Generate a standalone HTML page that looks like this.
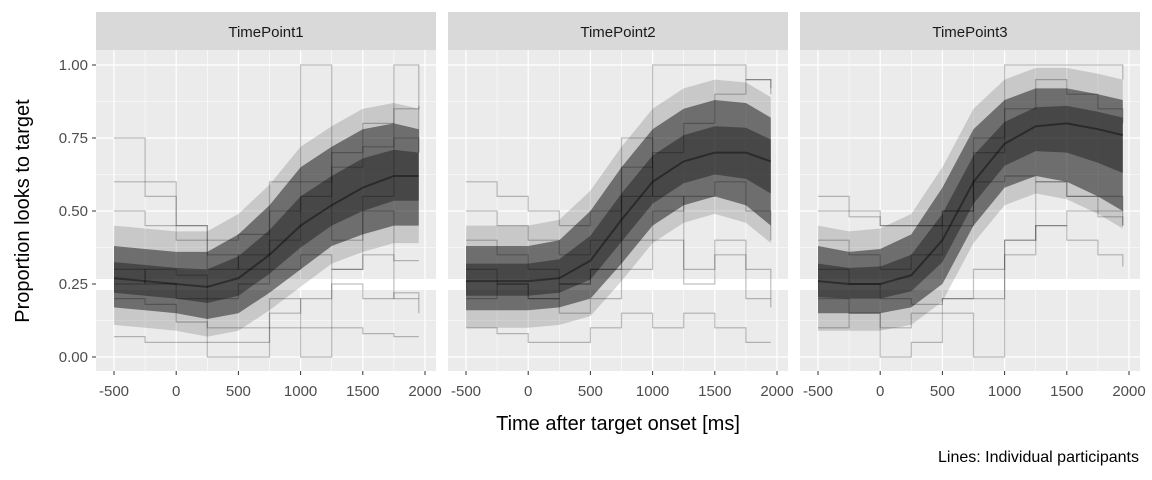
<!DOCTYPE html>
<html><head><meta charset="utf-8"><style>
body{margin:0;background:#fff}
svg{display:block;font-family:"Liberation Sans",Arial,sans-serif}
</style></head><body>
<svg id="c" width="1152" height="480">
<g id="panels"></g>
<text x="618" y="430" font-size="20" text-anchor="middle" fill="#000">Time after target onset [ms]</text>
<text transform="translate(29,211) rotate(-90)" font-size="20" text-anchor="middle" fill="#000">Proportion looks to target</text>
<text x="1139" y="462" font-size="16" text-anchor="end" fill="#000">Lines: Individual participants</text>
</svg>
<script>
const panelNames = ["TimePoint1","TimePoint2","TimePoint3"];
const times = [-500,-250,0,250,500,750,1000,1250,1500,1750,1950];
const xTicks = [-500,0,500,1000,1500,2000];
const yTicks = [0,0.25,0.5,0.75,1];
const yTickLabels = ["0.00","0.25","0.50","0.75","1.00"];
const meanP1 = [0.27,0.26,0.25,0.24,0.27,0.35,0.45,0.52,0.58,0.62,0.62];
const lowP1 = [0.17,0.16,0.15,0.13,0.15,0.22,0.30,0.38,0.42,0.45,0.45];
const highP1 = [0.38,0.37,0.36,0.36,0.42,0.52,0.65,0.72,0.78,0.80,0.78];
const meanP2 = [0.26,0.26,0.26,0.27,0.33,0.47,0.60,0.67,0.70,0.70,0.67];
const lowP2 = [0.16,0.16,0.16,0.17,0.20,0.32,0.45,0.52,0.55,0.52,0.45];
const highP2 = [0.38,0.38,0.38,0.40,0.50,0.65,0.78,0.85,0.88,0.87,0.82];
const meanP3 = [0.26,0.25,0.25,0.28,0.40,0.60,0.73,0.79,0.80,0.78,0.76];
const lowP3 = [0.15,0.15,0.15,0.17,0.25,0.45,0.58,0.62,0.60,0.55,0.50];
const highP3 = [0.38,0.36,0.37,0.42,0.58,0.78,0.88,0.92,0.92,0.90,0.88];
const linesP1 = [
 [0.60,0.55,0.45,0.40,0.42,0.50,0.60,0.70,0.80,0.85,0.86],
 [0.07,0.05,0.05,0.05,0.05,0.10,0.10,0.10,0.08,0.07,0.07],
 [0.20,0.18,0.12,0.10,0.10,0.15,0.20,0.25,0.20,0.22,0.20],
 [0.50,0.45,0.40,0.30,0.35,0.60,1.00,0.40,0.55,1.00,0.70],
 [0.30,0.25,0.20,0.00,0.00,0.20,0.00,0.30,0.50,0.20,0.15],
 [0.75,0.60,0.45,0.35,0.30,0.40,0.55,0.65,0.72,0.75,0.70],
 [0.25,0.30,0.28,0.20,0.25,0.30,0.35,0.30,0.35,0.33,0.33]];
const linesP2 = [
 [0.60,0.55,0.50,0.45,0.50,0.65,1.00,1.00,1.00,0.95,0.90],
 [0.10,0.08,0.05,0.05,0.10,0.15,0.10,0.15,0.10,0.05,0.05],
 [0.20,0.25,0.20,0.25,0.30,0.75,0.55,0.30,0.40,0.30,0.20],
 [0.40,0.35,0.30,0.25,0.30,0.40,0.50,0.55,0.60,0.50,0.40],
 [0.30,0.25,0.20,0.15,0.20,0.30,0.40,0.25,0.35,0.20,0.17],
 [0.50,0.45,0.40,0.35,0.40,0.55,0.70,0.80,0.90,0.95,0.92]];
const linesP3 = [
 [0.55,0.50,0.45,0.45,0.50,0.75,1.00,1.00,1.00,1.00,0.95],
 [0.10,0.15,0.10,0.15,0.20,0.30,0.40,0.45,0.40,0.35,0.31],
 [0.20,0.15,0.00,0.05,0.15,0.00,0.35,0.45,0.50,0.48,0.45],
 [0.50,0.48,0.45,0.45,0.50,0.60,0.62,0.60,0.55,0.55,0.50],
 [0.30,0.25,0.20,0.18,0.20,0.20,0.40,0.60,0.55,0.50,0.45],
 [0.40,0.35,0.30,0.35,0.45,0.70,0.85,0.95,0.90,0.85,0.80]];
const panelMeans=[meanP1,meanP2,meanP3], panelLows=[lowP1,lowP2,lowP3], panelHighs=[highP1,highP2,highP3], panelLines=[linesP1,linesP2,linesP3];
const NS="http://www.w3.org/2000/svg";
const root=document.getElementById('panels');
const PL=[96,448,800], PW=340, PT=50, PB=371;
function yS(v){return 357-292*v;}
function mk(t,a,p){const e=document.createElementNS(NS,t);for(const k in a)e.setAttribute(k,a[k]);(p||root).appendChild(e);return e;}
function stepPath(xs,vals){let d='';for(let i=0;i<vals.length;i++){const x=xs(times[i]),y=yS(vals[i]);d+= i? `H${x.toFixed(1)}V${y.toFixed(1)}`:`M${x.toFixed(1)},${y.toFixed(1)}`;}return d;}
function linePath(xs,vals){return vals.map((v,i)=>(i?'L':'M')+xs(times[i]).toFixed(1)+','+yS(v).toFixed(1)).join('');}
function band(xs,hi,lo){let d=linePath(xs,hi);for(let i=lo.length-1;i>=0;i--) d+='L'+xs(times[i]).toFixed(1)+','+yS(lo[i]).toFixed(1);return d+'Z';}
panelNames.forEach((nm,p)=>{
  const L=PL[p];
  const xs=t=>L+18+(t+500)*311/2500;
  const g=mk('g',{});
  
  
  mk('rect',{x:L,y:12,width:PW,height:38,fill:'#d9d9d9'},g);
  const st=mk('text',{x:L+PW/2,y:37,'font-size':15,'text-anchor':'middle',fill:'#1a1a1a'},g);
  st.textContent=nm;
  
  
  mk('rect',{x:L,y:PT,width:PW,height:PB-PT,fill:'#ebebeb'},g);
  for(let v=0.125;v<1.05;v+=0.25) mk('line',{x1:L,x2:L+PW,y1:yS(v),y2:yS(v),stroke:'#fff','stroke-width':0.6},g);
  for(let t=-250;t<2100;t+=500) mk('line',{x1:xs(t),x2:xs(t),y1:PT,y2:PB,stroke:'#fff','stroke-width':0.6},g);
  yTicks.forEach(v=>mk('line',{x1:L,x2:L+PW,y1:yS(v),y2:yS(v),stroke:'#fff','stroke-width':1.2},g));
  mk('rect',{x:L,y:279,width:PW,height:11,fill:'#fff'},g);
  xTicks.forEach(t=>mk('line',{x1:xs(t),x2:xs(t),y1:PT,y2:PB,stroke:'#fff','stroke-width':1.2},g));
  const mean=panelMeans[p],low=panelLows[p],high=panelHighs[p];
  const outHi=high.map(v=>Math.min(1,v+0.07)), outLo=low.map(v=>Math.max(0,v-0.06));
  mk('path',{d:band(xs,outHi,outLo),fill:'rgba(0,0,0,0.15)'},g);
  const env=mk('path',{d:band(xs,high,low),fill:'rgba(0,0,0,0.45)'},g);
  
  
  const innerHi=mean.map((m,i)=>(m+high[i])/2), innerLo=mean.map((m,i)=>(m+low[i])/2);
  mk('path',{d:band(xs,innerHi,innerLo),fill:'rgba(0,0,0,0.35)'},g);
  panelLines[p].forEach((ln,k)=>{
    const pl=mk('path',{d:stepPath(xs,ln),fill:'none',stroke:'rgba(0,0,0,0.25)','stroke-width':1.2},g);
    
    
  });
  const ml=mk('path',{d:linePath(xs,mean),fill:'none',stroke:'rgba(0,0,0,0.4)','stroke-width':2},g);
  
  
  xTicks.forEach(t=>{
    mk('line',{x1:xs(t),x2:xs(t),y1:PB,y2:PB+4,stroke:'#333','stroke-width':1},g);
    const tx=mk('text',{x:xs(t),y:396,'font-size':15,'text-anchor':'middle',fill:'#4d4d4d'},g);
    tx.textContent=t;
    
    
  });
  if(p===0){
    yTicks.forEach((v,i)=>{
      mk('line',{x1:L-4,x2:L,y1:yS(v),y2:yS(v),stroke:'#333','stroke-width':1},g);
      const ty=mk('text',{x:L-8,y:yS(v)+5,'font-size':15,'text-anchor':'end',fill:'#4d4d4d'},g);
      ty.textContent=yTickLabels[i];
      
      
    });
  }
});
</script>
</body></html>
